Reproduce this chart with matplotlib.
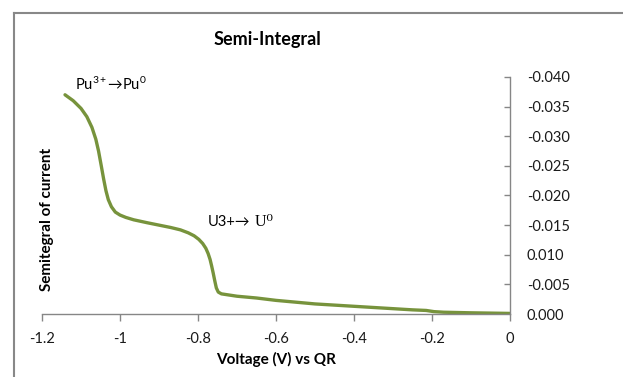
import matplotlib
matplotlib.use("Agg")
import matplotlib.pyplot as plt
from matplotlib.lines import Line2D

plt.rcParams['font.family'] = ['Lato', 'DejaVu Sans']
plt.rcParams['mathtext.fontset'] = 'custom'
plt.rcParams['mathtext.rm'] = 'Lato'
plt.rcParams['mathtext.it'] = 'Lato:italic'
plt.rcParams['mathtext.bf'] = 'Lato:bold'

# Data
voltage = [-1.141, -1.120, -1.100, -1.085, -1.072, -1.062, -1.055, -1.048,
           -1.042, -1.036, -1.030, -1.022, -1.012, -1.000, -0.985, -0.965,
           -0.930, -0.900, -0.870, -0.845, -0.825, -0.810, -0.798, -0.788,
           -0.780, -0.774, -0.769, -0.765, -0.761, -0.757, -0.753, -0.748,
           -0.740, -0.720, -0.700, -0.650, -0.600, -0.550, -0.500, -0.450,
           -0.400, -0.350, -0.300, -0.250, -0.215, -0.195, -0.170, -0.100,
           -0.050, 0.0]
semi_integral = [-0.0370, -0.0360, -0.0347, -0.0333, -0.0315, -0.0295, -0.0275,
                 -0.0250, -0.0228, -0.0208, -0.0193, -0.0181, -0.0172, -0.0167,
                 -0.0163, -0.0159, -0.0154, -0.0150, -0.0146, -0.0142, -0.0137,
                 -0.0132, -0.0126, -0.0119, -0.0111, -0.0102, -0.0092, -0.0081,
                 -0.0069, -0.0056, -0.0044, -0.0037, -0.0034, -0.0032, -0.0030,
                 -0.0027, -0.0023, -0.0020, -0.0017, -0.0015, -0.0013, -0.0011,
                 -0.0009, -0.0007, -0.0006, -0.0004, -0.0003, -0.0002, -0.00015,
                 -0.0001]

x_ticks = [-1.2, -1.0, -0.8, -0.6, -0.4, -0.2, 0.0]
x_tick_labels = ["-1.2", "-1", "-0.8", "-0.6", "-0.4", "-0.2", "0"]
y_ticks = [0.0, -0.005, -0.010, -0.015, -0.020, -0.025, -0.030, -0.035, -0.040]
y_tick_labels = ["0.000", "-0.005", "0.010", "-0.015", "-0.020", "-0.025",
                 "-0.030", "-0.035", "-0.040"]

W, H = 623, 377
fig = plt.figure(figsize=(W / 100, H / 100), dpi=100)
x0, x1 = 42, 510
ytop, ybot = 77, 314
ax = fig.add_axes([x0 / W, 1 - ybot / H, (x1 - x0) / W, (ybot - ytop) / H])

ax.plot(voltage, semi_integral, color='#77933C', lw=2.4,
        solid_capstyle='round', solid_joinstyle='round')

ax.set_xlim(-1.2, 0.0)
ax.set_ylim(0.0, -0.040)

axis_col = '#868686'
for s in ['top', 'left']:
    ax.spines[s].set_visible(False)
for s in ['bottom', 'right']:
    ax.spines[s].set_color(axis_col)
    ax.spines[s].set_linewidth(1.0)

ax.set_xticks(x_ticks)
ax.set_xticklabels(x_tick_labels)
ax.set_yticks(y_ticks)
ax.set_yticklabels(y_tick_labels)
ax.yaxis.tick_right()
ax.tick_params(axis='x', direction='out', length=5, width=1, color=axis_col,
               pad=8, labelsize=10.5, labelcolor='#1a1a1a')
ax.tick_params(axis='y', direction='in', length=4.5, width=1, color=axis_col,
               pad=12, labelsize=10.5, labelcolor='#1a1a1a')
ax.yaxis.get_major_ticks()[0].tick2line.set_visible(False)

ax.set_xlabel("Voltage (V) vs QR", fontsize=11, fontweight='bold', labelpad=4)
fig.text(47 / W, 1 - 219 / H, "Semitegral of current", rotation=90,
         fontsize=11, fontweight='bold', ha='center', va='center')

fig.text(267 / W, 1 - 40 / H, "Semi-Integral", fontsize=13, fontweight='bold',
         ha='center', va='center')

ax.text(-1.115, -0.0388, r"Pu$^{\mathregular{3+}}$→Pu$^{\mathregular{0}}$",
        fontsize=10.5, ha='left', va='center', clip_on=False)
t1 = ax.text(-0.774, -0.0155, "U3+→", fontsize=10.5, ha='left', va='center')
ax.annotate(" U⁰", xy=(1, 0.5), xycoords=t1, ha='left', va='center',
            fontsize=11.5, family=['Liberation Serif', 'DejaVu Serif'])

# figure border (top and left)
fig.add_artist(Line2D([14 / W, 14 / W], [0, 1 - 13 / H], color='#888888', lw=1.5,
                      transform=fig.transFigure))
fig.add_artist(Line2D([14 / W, 1], [1 - 13 / H, 1 - 13 / H], color='#888888', lw=1.5,
                      transform=fig.transFigure))

fig.savefig("out.png", dpi=100)
